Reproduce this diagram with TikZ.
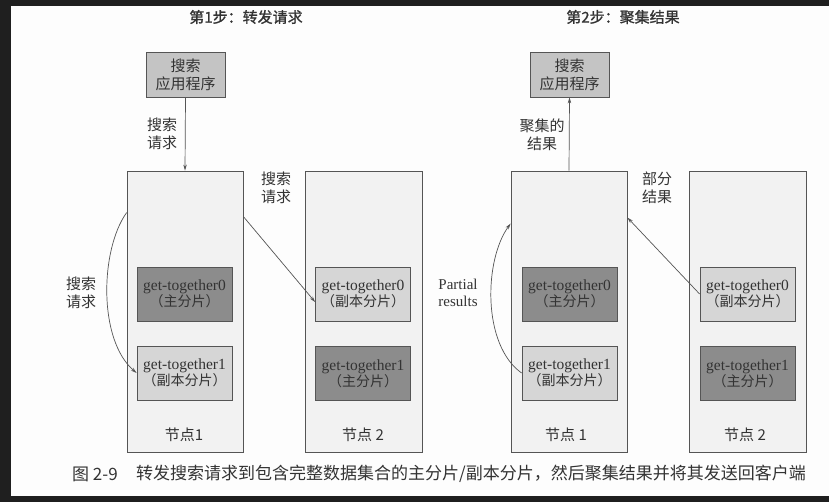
\documentclass[tikz,border=0pt]{standalone}
\usepackage{fontspec}
\setmainfont{Liberation Serif}
\newfontfamily\cjk{Noto Sans CJK SC}
\newfontfamily\cjkb[FakeBold=1.2]{Noto Sans CJK SC}
\usetikzlibrary{arrows.meta}
\definecolor{darkbg}{HTML}{1F1F1F}
\definecolor{paper}{HTML}{FDFDFD}
\definecolor{nodefill}{HTML}{F2F2F2}
\definecolor{appfill}{HTML}{C4C4C4}
\definecolor{primfill}{HTML}{8C8C8C}
\definecolor{replfill}{HTML}{D6D6D6}
\definecolor{edge}{HTML}{555555}
\definecolor{ink}{HTML}{333333}
\tikzset{
  box/.style={draw=edge, line width=0.8pt, rectangle, inner sep=0pt, align=center, text=ink},
  appbox/.style={box, fill=appfill, minimum width=79pt, minimum height=45pt, font=\cjk\fontsize{15}{18}\selectfont},
  esnode/.style={box, fill=nodefill, minimum width=116pt, minimum height=281pt},
  prim/.style={box, fill=primfill, minimum width=95pt, minimum height=54pt},
  repl/.style={box, fill=replfill, minimum width=95pt, minimum height=54pt},
  lbl/.style={align=center, text=ink, inner sep=0pt, font=\cjk\fontsize{15}{18}\selectfont},
  ttl/.style={align=center, text=ink, inner sep=0pt, font=\cjkb\fontsize{15}{18}\selectfont},
  elbl/.style={align=center, text=ink, inner sep=0pt, font=\fontsize{15}{17}\selectfont},
  arr/.style={draw=edge, line width=0.7pt, -{Stealth[length=6pt,width=3.5pt]}},
}
\newcommand{\shardtxt}[2]{{\fontsize{15.5}{18}\selectfont get-together#1}\\{\cjk\fontsize{14}{18}\selectfont （#2）}}
\begin{document}
\begin{tikzpicture}[x=1pt,y=-1pt]
\useasboundingbox (0,0) rectangle (829,502);
\fill[darkbg] (0,0) rectangle (829,502);
\fill[paper] (11,6) rectangle (829,496);

% titles
\node[ttl] (title1) at (246,17) {第1步：转发请求};
\node[ttl] (title2) at (623,17) {第2步：聚集结果};

% ---- step 1 ----
\node[appbox] (app1) at (185.5,74.5) {搜索\\应用程序};
\node[esnode] (n1) at (185,311.5) {};
\node[esnode, minimum width=117pt] (n2) at (363.5,311.5) {};
\node[prim] (s10) at (184.5,294) {\shardtxt{0}{主分片}};
\node[repl] (s11) at (184.5,373) {\shardtxt{1}{副本分片}};
\node[repl] (s20) at (363,294) {\shardtxt{0}{副本分片}};
\node[prim] (s21) at (363,373.5) {\shardtxt{1}{主分片}};
\node[lbl] (n1lbl) at (184,435) {节点1};
\node[lbl] (n2lbl) at (363,435) {节点 2};

\draw[arr] (app1.south) -- (n1.north);
\node[lbl] (q1) at (162,134) {搜索\\请求};
\draw[arr] ([yshift=-46pt]n1.north east) -- ([yshift=-8pt]s20.west);
\node[lbl] (q2) at (276,188) {搜索\\请求};
\draw[arr] ([yshift=-42pt]n1.north west) .. controls (100,250) and (98,340) .. (s11.west);
\node[lbl] (q3) at (81,293) {搜索\\请求};

% ---- step 2 ----
\node[appbox] (app2) at (569.5,74.5) {搜索\\应用程序};
\node[esnode] (m1) at (569,311.5) {};
\node[esnode, minimum width=117pt] (m2) at (747.5,311.5) {};
\node[prim] (t10) at (569.5,294) {\shardtxt{0}{主分片}};
\node[repl] (t11) at (569.5,373) {\shardtxt{1}{副本分片}};
\node[repl] (t20) at (747.5,294) {\shardtxt{0}{副本分片}};
\node[prim] (t21) at (747.5,373.5) {\shardtxt{1}{主分片}};
\node[lbl] (m1lbl) at (566,435) {节点 1};
\node[lbl] (m2lbl) at (745,435) {节点 2};

\draw[arr] (m1.north) -- (app2.south);
\node[lbl] (r1) at (542,135) {聚集的\\结果};
\draw[arr] (t20.west) -- ([yshift=-47pt]m1.north east);
\node[lbl] (r2) at (657,188) {部分\\结果};
\draw[arr] (t11.west) .. controls (482,345) and (484,260) .. ([yshift=-53pt]m1.north west);
\node[elbl] (r3) at (458,293) {Partial\\results};

% caption
\node[anchor=west, inner sep=0pt, text=ink, font=\cjk\fontsize{17}{20}\selectfont] (capnum) at (72,474) {图 2-9};
\node[anchor=west, inner sep=0pt, text=ink, font=\cjk\fontsize{17}{20}\selectfont] (captxt) at (136,474) {转发搜索请求到包含完整数据集合的主分片/副本分片，然后聚集结果并将其发送回客户端};
\end{tikzpicture}
\end{document}
